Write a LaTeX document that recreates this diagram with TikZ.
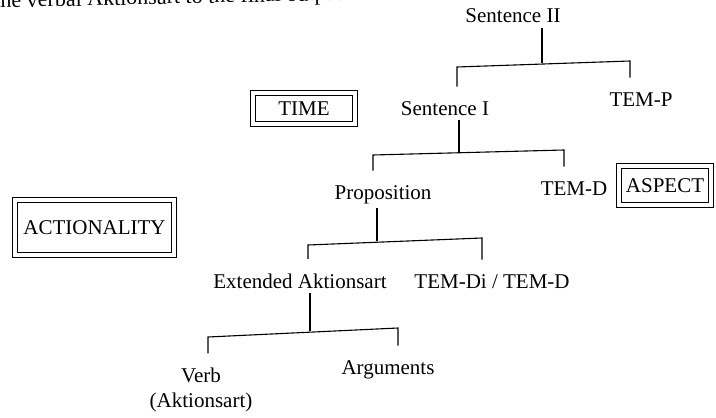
\documentclass[tikz,border=0pt]{standalone}
\usepackage{fontspec}
\setmainfont{Liberation Serif}
\usetikzlibrary{calc}

\begin{document}
\begin{tikzpicture}[x=0.5pt, y=-0.5pt, line width=0.55pt,
		lbl/.style={font=\fontsize{10.5}{12.6}\selectfont, inner sep=2pt, anchor=base},
		frame/.style={draw, double, double distance=2pt, line width=0.5pt, inner sep=0pt, font=\fontsize{10.5}{12.6}\selectfont},
		tick/.style={shorten <=5pt, shorten >=5pt}]
			%%%%% START %%%%%
			
			\useasboundingbox (0,0) rectangle (716,417);
			\clip (0,0) rectangle (716,417);
			
			\node[lbl, anchor=base west, rotate=1.3, font=\fontsize{11}{13}\selectfont] (caption) at (-10,8) {the verbal Aktionsart to the final output.};
			
			\node[lbl] (sentII) at (513,23) {Sentence II};
			\node[lbl] (temP) at (641,106) {TEM-P};
			\node[lbl] (sentI) at (445,115) {Sentence I};
			\node[lbl] (temD) at (574,195) {TEM-D};
			\node[lbl] (prop) at (383,199) {Proposition};
			\node[lbl] (extAkt) at (300,288) {Extended Aktionsart};
			\node[lbl] (temDi) at (492,288) {TEM-Di / TEM-D};
			\node[lbl, anchor=center, align=center] (verb) at (201,390) {Verb\\(Aktionsart)};
			\node[lbl] (args) at (388,374) {Arguments};
			
			\node[frame, minimum width=51pt, minimum height=15.5pt] (timeBox) at (304,108.5) {TIME};
			\node[frame, minimum width=46pt, minimum height=19.5pt] (aspectBox) at (665,185.5) {ASPECT};
			\node[frame, minimum width=79.5pt, minimum height=27.5pt] (actBox) at (94.5,227.5) {ACTIONALITY};
			
			\coordinate (jII) at (542,63);
			\coordinate (lII) at (457,67);
			\coordinate (rII) at (630,61);
			\draw (sentII.south -| jII) -- (jII);
			\draw[tick] (sentI.north -| lII) -- (lII) -- (rII) -- (temP.north -| rII);
			
			\coordinate (jI) at (459,152);
			\coordinate (lI) at (373,155);
			\coordinate (rI) at (564,150);
			\draw (sentI.south -| jI) -- (jI);
			\draw[tick] (prop.north -| lI) -- (lI) -- (rI) -- (temD.north -| rI);
			
			\coordinate (jP) at (377,241);
			\coordinate (lP) at (308,245);
			\coordinate (rP) at (482,238);
			\draw (prop.south -| jP) -- (jP);
			\draw[tick] (extAkt.north -| lP) -- (lP) -- (rP) -- (temDi.north -| rP);
			
			\coordinate (jE) at (310,331);
			\coordinate (lE) at (208,337);
			\coordinate (rE) at (398,328);
			\draw (extAkt.south -| jE) -- (jE);
			\draw[tick] (verb.north -| lE) -- (lE) -- (rE) -- (args.north -| rE);
			
			%%%%% END %%%%%
		\end{tikzpicture}
\end{document}
